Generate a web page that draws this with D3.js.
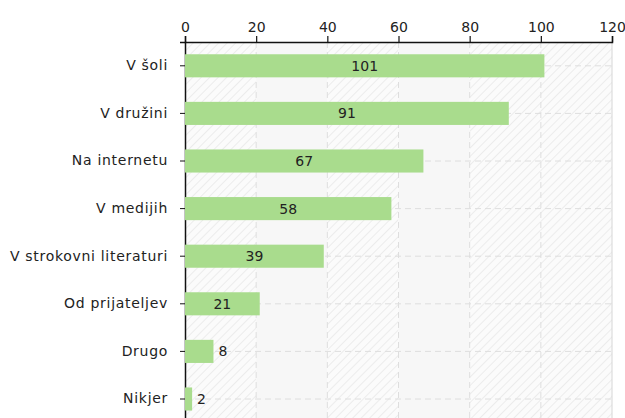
<!DOCTYPE html>
<html>
<head>
<meta charset="utf-8">
<script src="https://cdn.jsdelivr.net/npm/d3@7"></script>
<style>
  html, body { margin: 0; padding: 0; background: #fff; }
  svg { display: block; font-family: "DejaVu Sans", Verdana, sans-serif; }
</style>
</head>
<body>
<svg id="chart" width="625" height="418"></svg>
<script>
// Where respondents get their information
const categories = ["V šoli", "V družini", "Na internetu", "V medijih", "V strokovni literaturi", "Od prijateljev", "Drugo", "Nikjer"];
const values = [101, 91, 67, 58, 39, 21, 8, 2];
const tickValues = [0, 20, 40, 60, 80, 100, 120];

const svg = d3.select("#chart");
const margin = { left: 185, top: 42, right: 13 };
const width = 625 - margin.left - margin.right;
const step = 47.6;
const height = step * categories.length;

const x = d3.scaleLinear().domain([0, 120]).range([0, width]);
const y = d3.scaleBand().domain(categories).range([0, height]).paddingInner(0.515).paddingOuter(0.2575);

const defs = svg.append("defs");
const pat = defs.append("pattern")
  .attr("id", "hatch").attr("patternUnits", "userSpaceOnUse")
  .attr("width", 6).attr("height", 6)
  .attr("patternTransform", "rotate(45)");
pat.append("rect").attr("width", 6).attr("height", 6).attr("fill", "#fbfbfb");
pat.append("line").attr("x1", 0).attr("y1", 0).attr("x2", 0).attr("y2", 6)
  .attr("stroke", "#ececec").attr("stroke-width", 2);

const g = svg.append("g").attr("transform", `translate(${margin.left},${margin.top})`);

// Background bands between ticks: hatched and plain alternately
const bands = d3.pairs(tickValues);
g.selectAll("rect.band").data(bands).join("rect")
  .attr("class", "band")
  .attr("x", d => x(d[0])).attr("width", d => x(d[1]) - x(d[0]))
  .attr("y", 0).attr("height", height)
  .attr("fill", (d, i) => (i % 2 === 1 && i < 4) ? "#f7f7f7" : "url(#hatch)");

// Dashed grid
g.selectAll("line.vgrid").data(tickValues.slice(1, -1)).join("line")
  .attr("class", "vgrid")
  .attr("x1", d => x(d)).attr("x2", d => x(d))
  .attr("y1", 0).attr("y2", height)
  .attr("stroke", "#dedede").attr("stroke-dasharray", "6,4");
g.selectAll("line.hgrid").data(categories).join("line")
  .attr("class", "hgrid")
  .attr("x1", 0).attr("x2", width)
  .attr("y1", d => y(d) + y.bandwidth() / 2).attr("y2", d => y(d) + y.bandwidth() / 2)
  .attr("stroke", "#dedede").attr("stroke-dasharray", "6,4");

// Right frame line
g.append("line").attr("x1", width).attr("x2", width).attr("y1", 0).attr("y2", height)
  .attr("stroke", "#d6d6d6");

// Left axis
const yAxis = g.append("g").call(d3.axisLeft(y).tickSize(5).tickPadding(12));
yAxis.select(".domain").attr("stroke", "#111").attr("stroke-width", 1.5);
yAxis.selectAll(".tick line").attr("stroke", "#111");
yAxis.selectAll(".tick text").attr("font-size", 14).attr("fill", "#222")
  .attr("letter-spacing", 0.7)
  .attr("font-family", "DejaVu Sans, Verdana, sans-serif");

// Bars
const barData = categories.map((c, i) => ({ c, v: values[i] }));
g.selectAll("rect.bar").data(barData).join("rect")
  .attr("class", "bar")
  .attr("x", 0).attr("y", d => y(d.c))
  .attr("width", d => x(d.v)).attr("height", y.bandwidth())
  .attr("fill", "#a9dc8d");

// Value labels: centred inside wide bars, to the right of narrow ones
g.selectAll("text.val").data(barData).join("text")
  .attr("class", "val")
  .attr("x", d => x(d.v) > 40 ? x(d.v) / 2 : x(d.v) + 5)
  .attr("y", d => y(d.c) + y.bandwidth() / 2)
  .attr("dy", "0.36em")
  .attr("text-anchor", d => x(d.v) > 40 ? "middle" : "start")
  .attr("font-size", 14).attr("fill", "#222")
  .text(d => d.v);

// Top axis
const xAxis = g.append("g").call(d3.axisTop(x).tickValues(tickValues).tickSize(6).tickPadding(4).tickFormat(d3.format("d")));
xAxis.select(".domain").attr("stroke", "#111").attr("stroke-width", 1.5);
xAxis.selectAll(".tick line").attr("stroke", "#111").attr("stroke-width", 1.2);
xAxis.selectAll(".tick text").attr("font-size", 14).attr("fill", "#222")
  .attr("font-family", "DejaVu Sans, Verdana, sans-serif");
</script>
</body>
</html>
